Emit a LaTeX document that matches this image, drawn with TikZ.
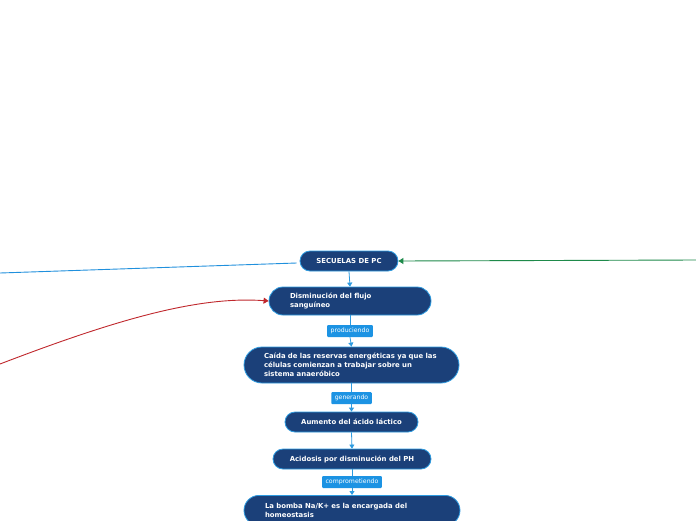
\documentclass[tikz,border=0pt]{standalone}
\usepackage{fontspec}
\setmainfont{DejaVu Sans}
\usetikzlibrary{arrows.meta}
\definecolor{boxfill}{HTML}{1B4079}
\definecolor{boxline}{HTML}{2D9BE0}
\definecolor{lblfill}{HTML}{1C93E3}
\definecolor{bluelink}{HTML}{2090DD}
\definecolor{greenlink}{HTML}{1E8A4A}
\definecolor{redlink}{HTML}{C0282D}
\tikzset{
  topic/.style={draw=boxline, line width=0.8pt, fill=boxfill, text=white,
    font=\fontsize{6.9}{9}\selectfont\bfseries, inner ysep=0pt, inner xsep=0pt},
  lbl/.style={fill=lblfill, text=white, font=\fontsize{6.2}{7}\selectfont,
    minimum height=12pt, inner xsep=3.5pt, inner ysep=0pt, rounded corners=1pt},
  conn/.style={draw=boxline, line width=0.8pt, -{Triangle[width=5pt,length=4pt]}},
  plain/.style={draw=boxline, line width=0.8pt}
}
\begin{document}
\begin{tikzpicture}[x=1pt,y=-1pt]
\useasboundingbox[fill=white] (0,0) rectangle (696,520);
\node[topic, minimum width=98pt, minimum height=20pt, rounded corners=10pt, align=center] (s) at (349,261) {SECUELAS DE PC};
\node[topic, minimum width=162pt, minimum height=28pt, rounded corners=14pt, text width=120pt, align=left] (d) at (350,301) {Disminución del flujo\\sanguíneo};
\node[lbl] (l1) at (350,331) {produciendo};
\node[topic, minimum width=215pt, minimum height=36pt, rounded corners=18pt, text width=175pt, align=left] (c) at (351.5,365) {\mbox{Caída de las reservas energéticas ya que las}\\células comienzan a trabajar sobre un\\sistema anaeróbico};
\node[lbl] (l2) at (351.5,398) {generando};
\node[topic, minimum width=133pt, minimum height=20pt, rounded corners=10pt, align=center] (a) at (351.5,422) {Aumento del ácido láctico};
\node[topic, minimum width=158pt, minimum height=20pt, rounded corners=10pt, align=center] (ac) at (352,459) {Acidosis por disminución del PH};
\node[lbl] (l3) at (352,482) {comprometiendo};
\node[topic, minimum width=216pt, minimum height=30pt, rounded corners=15pt, text width=174pt, align=left, anchor=north] (b) at (352,495) {La bomba Na/K+ es la encargada del\\homeostasis};
\draw[conn] (s.south) -- (d.north);
\draw[plain] (d.south) -- (l1.north);
\draw[conn] (l1.south) -- (c.north);
\draw[plain] (c.south) -- (l2.north);
\draw[conn] (l2.south) -- (a.north);
\draw[conn] (a.south) -- (ac.north);
\draw[plain] (ac.south) -- (l3.north);
\draw[conn] (l3.south) -- (b.north);
\coordinate (bl) at (0,273);
\coordinate (gr) at (696,260);
\coordinate (rd) at (0,364);
\draw[bluelink, line width=0.9pt] (bl) -- ([xshift=-3pt,yshift=-2pt]s.west);
\draw[greenlink, line width=0.9pt, -{Triangle[width=6pt,length=5pt]}] (gr) -- (s.east);
\draw[redlink, line width=0.9pt, -{Triangle[width=6pt,length=5pt]}] (rd) .. controls (120,318) and (200,296) .. (d.west);
\end{tikzpicture}
\end{document}
